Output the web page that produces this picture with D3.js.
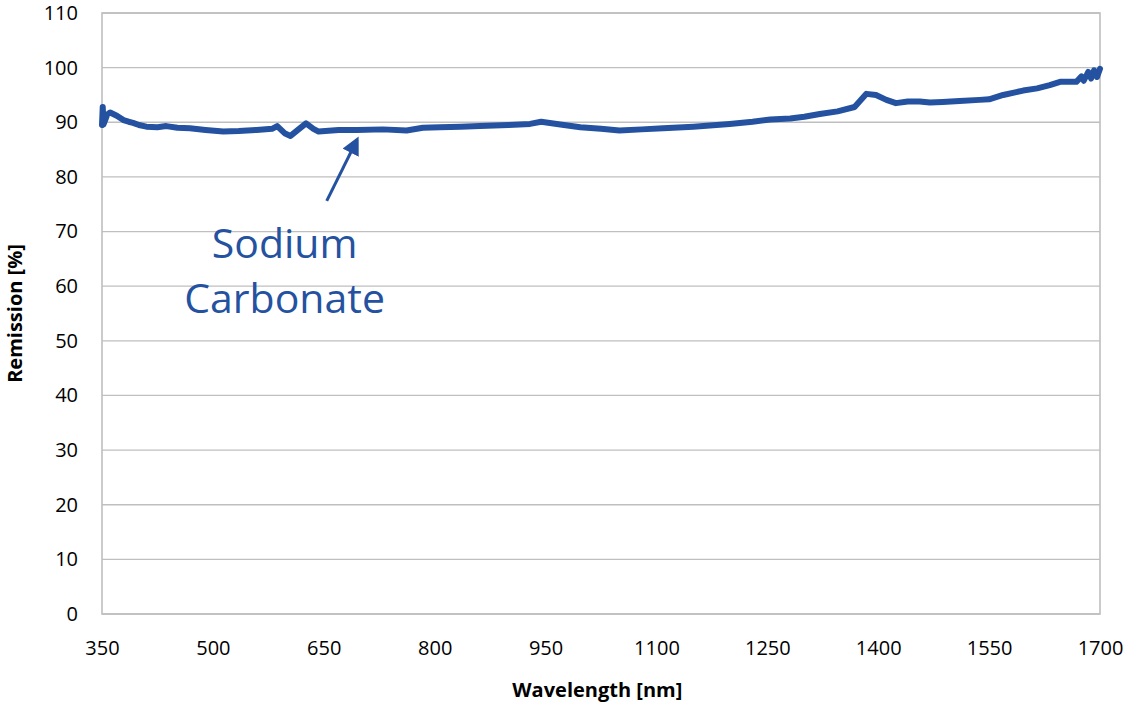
<!DOCTYPE html>
<html>
<head>
<meta charset="utf-8">
<script src="https://d3js.org/d3.v7.min.js"></script>
<style>
  body { margin: 0; background: #fff; }
  svg text { font-family: "Open Sans", sans-serif; }
</style>
</head>
<body>
<div id="chart"></div>
<script>
// spectrum
var wavelengths = [350, 351, 352, 354, 357, 361, 370, 379, 386, 392, 400, 410, 425, 437, 452, 469, 490, 514, 535, 559, 580, 587, 597, 605, 615, 626, 636, 643,
  670, 695, 730, 762, 784, 807, 835, 861, 900, 929, 944, 970, 997, 1025, 1050, 1080, 1109, 1150, 1199, 1230, 1254, 1281, 1300, 1321, 1345, 1368, 1384, 1397, 1411, 1424, 1440, 1456, 1470, 1487,
  1510, 1537, 1550, 1569, 1596, 1615, 1632, 1646, 1668, 1675, 1678, 1684, 1688, 1692, 1696, 1700];
var remission = [89.5, 92.8, 89.6, 90.3, 91.4, 91.8, 91.2, 90.4, 90.1, 89.9, 89.5, 89.2, 89.1, 89.3, 89.0, 88.9, 88.6, 88.3, 88.4, 88.6, 88.8, 89.3, 88.0, 87.5, 88.6, 89.8, 88.8, 88.3,
  88.6, 88.6, 88.7, 88.5, 89.0, 89.1, 89.2, 89.3, 89.5, 89.7, 90.1, 89.6, 89.1, 88.8, 88.5, 88.7, 88.9, 89.2, 89.7, 90.1, 90.5, 90.7, 91.0, 91.5, 92.0, 92.8, 95.2, 95.0, 94.1, 93.5, 93.8, 93.8, 93.6, 93.7,
  93.9, 94.1, 94.2, 95.0, 95.8, 96.2, 96.8, 97.4, 97.4, 98.4, 97.6, 99.2, 98.0, 99.5, 98.3, 99.8];
var xTicks = [350, 500, 650, 800, 950, 1100, 1250, 1400, 1550, 1700];
var yTicks = [0, 10, 20, 30, 40, 50, 60, 70, 80, 90, 100, 110];
var label = ["Sodium", "Carbonate"];

var W = 1127, H = 707;
var margin = {top: 13, right: 27, bottom: 93, left: 102};
var width = W - margin.left - margin.right,
    height = H - margin.top - margin.bottom;

var blue = "#2452a0";
var grid = "#bfbfbf";

var svg = d3.select("#chart").append("svg")
    .attr("width", W)
    .attr("height", H);
var g = svg.append("g")
    .attr("transform", "translate(" + margin.left + "," + margin.top + ")");

var x = d3.scaleLinear().domain([350, 1700]).range([0, width]);
var y = d3.scaleLinear().domain([0, 110]).range([height, 0]);

// horizontal gridlines
g.append("g")
  .selectAll("line")
  .data(yTicks)
  .enter().append("line")
    .attr("x1", 0).attr("x2", width)
    .attr("y1", function(d) { return y(d); })
    .attr("y2", function(d) { return y(d); })
    .attr("stroke", grid)
    .attr("stroke-width", 1.3);

// frame
g.append("rect")
  .attr("x", 0).attr("y", 0)
  .attr("width", width).attr("height", height)
  .attr("fill", "none")
  .attr("stroke", grid)
  .attr("stroke-width", 1.6);

// axes (labels only)
var xAxis = g.append("g")
  .attr("transform", "translate(0," + height + ")")
  .call(d3.axisBottom(x).tickValues(xTicks).tickFormat(d3.format("d")).tickSize(0).tickPadding(27));
var yAxis = g.append("g")
  .call(d3.axisLeft(y).tickValues(yTicks).tickFormat(d3.format("d")).tickSize(0).tickPadding(24));
[xAxis, yAxis].forEach(function(a) {
  a.select(".domain").remove();
  a.selectAll("text")
    .style("font-family", "'Open Sans', sans-serif")
    .style("font-size", "20px")
    .attr("fill", "#000");
});

// spectrum line
var pts = wavelengths.map(function(w, i) { return [w, remission[i]]; });
g.append("path")
  .datum(pts)
  .attr("fill", "none")
  .attr("stroke", blue)
  .attr("stroke-width", 6)
  .attr("stroke-linejoin", "round")
  .attr("stroke-linecap", "round")
  .attr("d", d3.line()
    .x(function(d) { return x(d[0]); })
    .y(function(d) { return y(d[1]); }));

// annotation arrow
svg.append("defs").append("marker")
  .attr("id", "head")
  .attr("viewBox", "0 0 10 10")
  .attr("refX", 8).attr("refY", 5)
  .attr("markerWidth", 6).attr("markerHeight", 6)
  .attr("orient", "auto")
  .append("path")
    .attr("d", "M0,0 L10,5 L0,10 z")
    .attr("fill", blue);

g.append("line")
  .attr("x1", x(654)).attr("y1", y(75.6))
  .attr("x2", x(695)).attr("y2", y(86.8))
  .attr("stroke", blue)
  .attr("stroke-width", 3)
  .attr("marker-end", "url(#head)");

g.append("text")
  .attr("x", x(597))
  .attr("text-anchor", "middle")
  .attr("fill", blue)
  .style("font-size", "41px")
  .selectAll("tspan")
  .data(label)
  .enter().append("tspan")
    .attr("x", x(597))
    .attr("y", function(d, i) { return y(i === 0 ? 65.2 : 55.1); })
    .text(function(d) { return d; });

// axis titles
svg.append("text")
  .attr("x", margin.left + x(1020))
  .attr("y", 697)
  .attr("text-anchor", "middle")
  .style("font-size", "20px")
  .style("font-weight", "bold")
  .text("Wavelength [nm]");

svg.append("text")
  .attr("transform", "translate(22," + (margin.top + y(55)) + ") rotate(-90)")
  .attr("text-anchor", "middle")
  .style("font-size", "20px")
  .style("font-weight", "bold")
  .text("Remission [%]");
</script>
</body>
</html>
